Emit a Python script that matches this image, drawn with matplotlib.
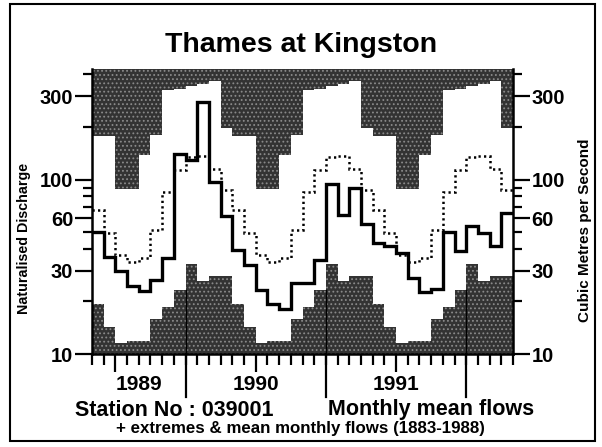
# Thames at Kingston - caudales mensuales 1989-1992
import matplotlib.pyplot as plt
import matplotlib.ticker as ticker
import matplotlib.transforms as transforms
from matplotlib.patches import Rectangle
import numpy as np

plt.rcParams['font.family'] = ['Liberation Sans', 'DejaVu Sans']
plt.rcParams['hatch.linewidth'] = 0.8

# meses del grafico: mayo 1989 .. abril 1992
meses = ['May', 'Jun', 'Jul', 'Aug', 'Sep', 'Oct', 'Nov', 'Dec', 'Jan', 'Feb', 'Mar', 'Apr']
anios = ['1989', '1990', '1991']

# caudal medio mensual (m3/s)
caudal = [50.2, 36.2, 29.8, 24.5, 23.0, 26.7, 35.4, 139.5,
          129.0, 280.0, 96.4, 61.5, 39.5, 32.5, 23.4, 19.3, 18.2, 25.4, 25.6, 34.7,
          94.3, 62.4, 89.5, 55.5, 43.1, 41.6, 37.8, 27.3, 22.8, 23.5, 50.3, 38.7,
          54.0, 49.2, 41.6, 64.2]

# serie larga 1883-1988, de mayo a abril
media = [66.6, 49.1, 37.0, 33.6, 35.4, 51.3, 84.6, 113.2, 134.0, 137.0, 114.7, 86.6]
maximo = [177, 177, 88.4, 88.4, 138.6, 181, 326, 330, 343, 352, 366, 198]
minimo = [19.4, 14.3, 11.5, 11.9, 11.9, 15.9, 18.5, 23.4, 32.6, 26.3, 28.0, 28.0]

techo = 430
bordes = np.arange(len(caudal) + 1)
media36 = media * 3
maximo36 = maximo * 3
minimo36 = minimo * 3

fig = plt.figure(figsize=(6.02, 4.47), dpi=100)
ax = fig.add_axes([92/602, 1-354/447, (513-92)/602, (354-69)/447])
ax.set_yscale('log')
ax.set_ylim(10, techo)
ax.set_xlim(0, 36)

# extremos sombreados
ax.stairs(maximo36, bordes, baseline=techo, fill=True, facecolor='#333333',
          edgecolor='#8a8a8a', hatch='....', linewidth=0, zorder=1)
ax.stairs(minimo36, bordes, baseline=10, fill=True, facecolor='#333333',
          edgecolor='#8a8a8a', hatch='....', linewidth=0, zorder=1)

# media de largo plazo (puntos) y caudal mensual
ax.stairs(media36, bordes, baseline=None, color='black', linewidth=1.8,
          linestyle=(0, (0.9, 1.3)), zorder=3)
ax.stairs(caudal, bordes, baseline=None, color='black', linewidth=2.4, zorder=4)

# ejes
ax.yaxis.set_major_locator(ticker.FixedLocator([10, 30, 60, 100, 300]))
ax.yaxis.set_major_formatter(ticker.FixedFormatter(['10', '30', '60', '100', '300']))
ax.yaxis.set_minor_locator(ticker.FixedLocator([20, 40, 50, 70, 80, 90, 200, 400]))
ax.yaxis.set_minor_formatter(ticker.NullFormatter())
ax.tick_params(axis='y', which='both', left=True, right=True, labelleft=True,
               labelright=True, direction='out', width=1.6, pad=1)
ax.tick_params(axis='y', which='major', length=12.5, labelsize=14.5)
ax.tick_params(axis='y', which='minor', length=6.5)
for lab in ax.get_yticklabels():
    lab.set_fontweight('bold')

ax.set_xticks(range(37), minor=True)
ax.set_xticks([2, 14, 26])
ax.tick_params(axis='x', which='minor', length=8, width=1.6, direction='out')
ax.tick_params(axis='x', which='major', length=13, width=1.6, direction='out', labelbottom=False)

for lado in ['left', 'right', 'bottom']:
    ax.spines[lado].set_linewidth(1.8)
ax.spines['top'].set_visible(False)

# lineas de cambio de anio
for i in [8, 20, 32]:
    ax.plot([i, i], [0, -0.152], transform=ax.get_xaxis_transform(), clip_on=False,
            color='black', lw=1.6)
    ax.plot([i, i], [10, min(minimo36[i-1], minimo36[i])], color='black', lw=1.0, zorder=2)

mezcla = transforms.blended_transform_factory(ax.transData, fig.transFigure)
for centro, anio in zip([4, 14, 26], anios):
    ax.text(centro, 1-385/447, anio, transform=mezcla, ha='center', va='center',
            fontsize=15, fontweight='bold')

fig.text(301/602, 1-45/447, 'Thames at Kingston', ha='center', va='center',
         fontsize=20.5, fontweight='bold')
fig.text(174/602, 1-410/447, 'Station No : 039001', ha='center', va='center',
         fontsize=15.5, fontweight='bold')
fig.text(431/602, 1-410/447, 'Monthly mean flows', ha='center', va='center',
         fontsize=15.5, fontweight='bold')
fig.text(300/602, 1-428/447, '+ extremes & mean monthly flows (1883-1988)', ha='center',
         va='center', fontsize=12.2, fontweight='bold')
fig.text(24/602, 1-238/447, 'Naturalised Discharge', rotation=90, ha='center', va='center',
         fontsize=10.3, fontweight='bold')
fig.text(585/602, 1-230/447, 'Cubic Metres per Second', rotation=90, ha='center', va='center',
         fontsize=11, fontweight='bold')

fig.patches.append(Rectangle((10/602, 6/447), (595-10)/602, (443-6)/447, transform=fig.transFigure,
                             fill=False, lw=1.5, ec='black'))

fig.savefig('out.png', dpi=100)
